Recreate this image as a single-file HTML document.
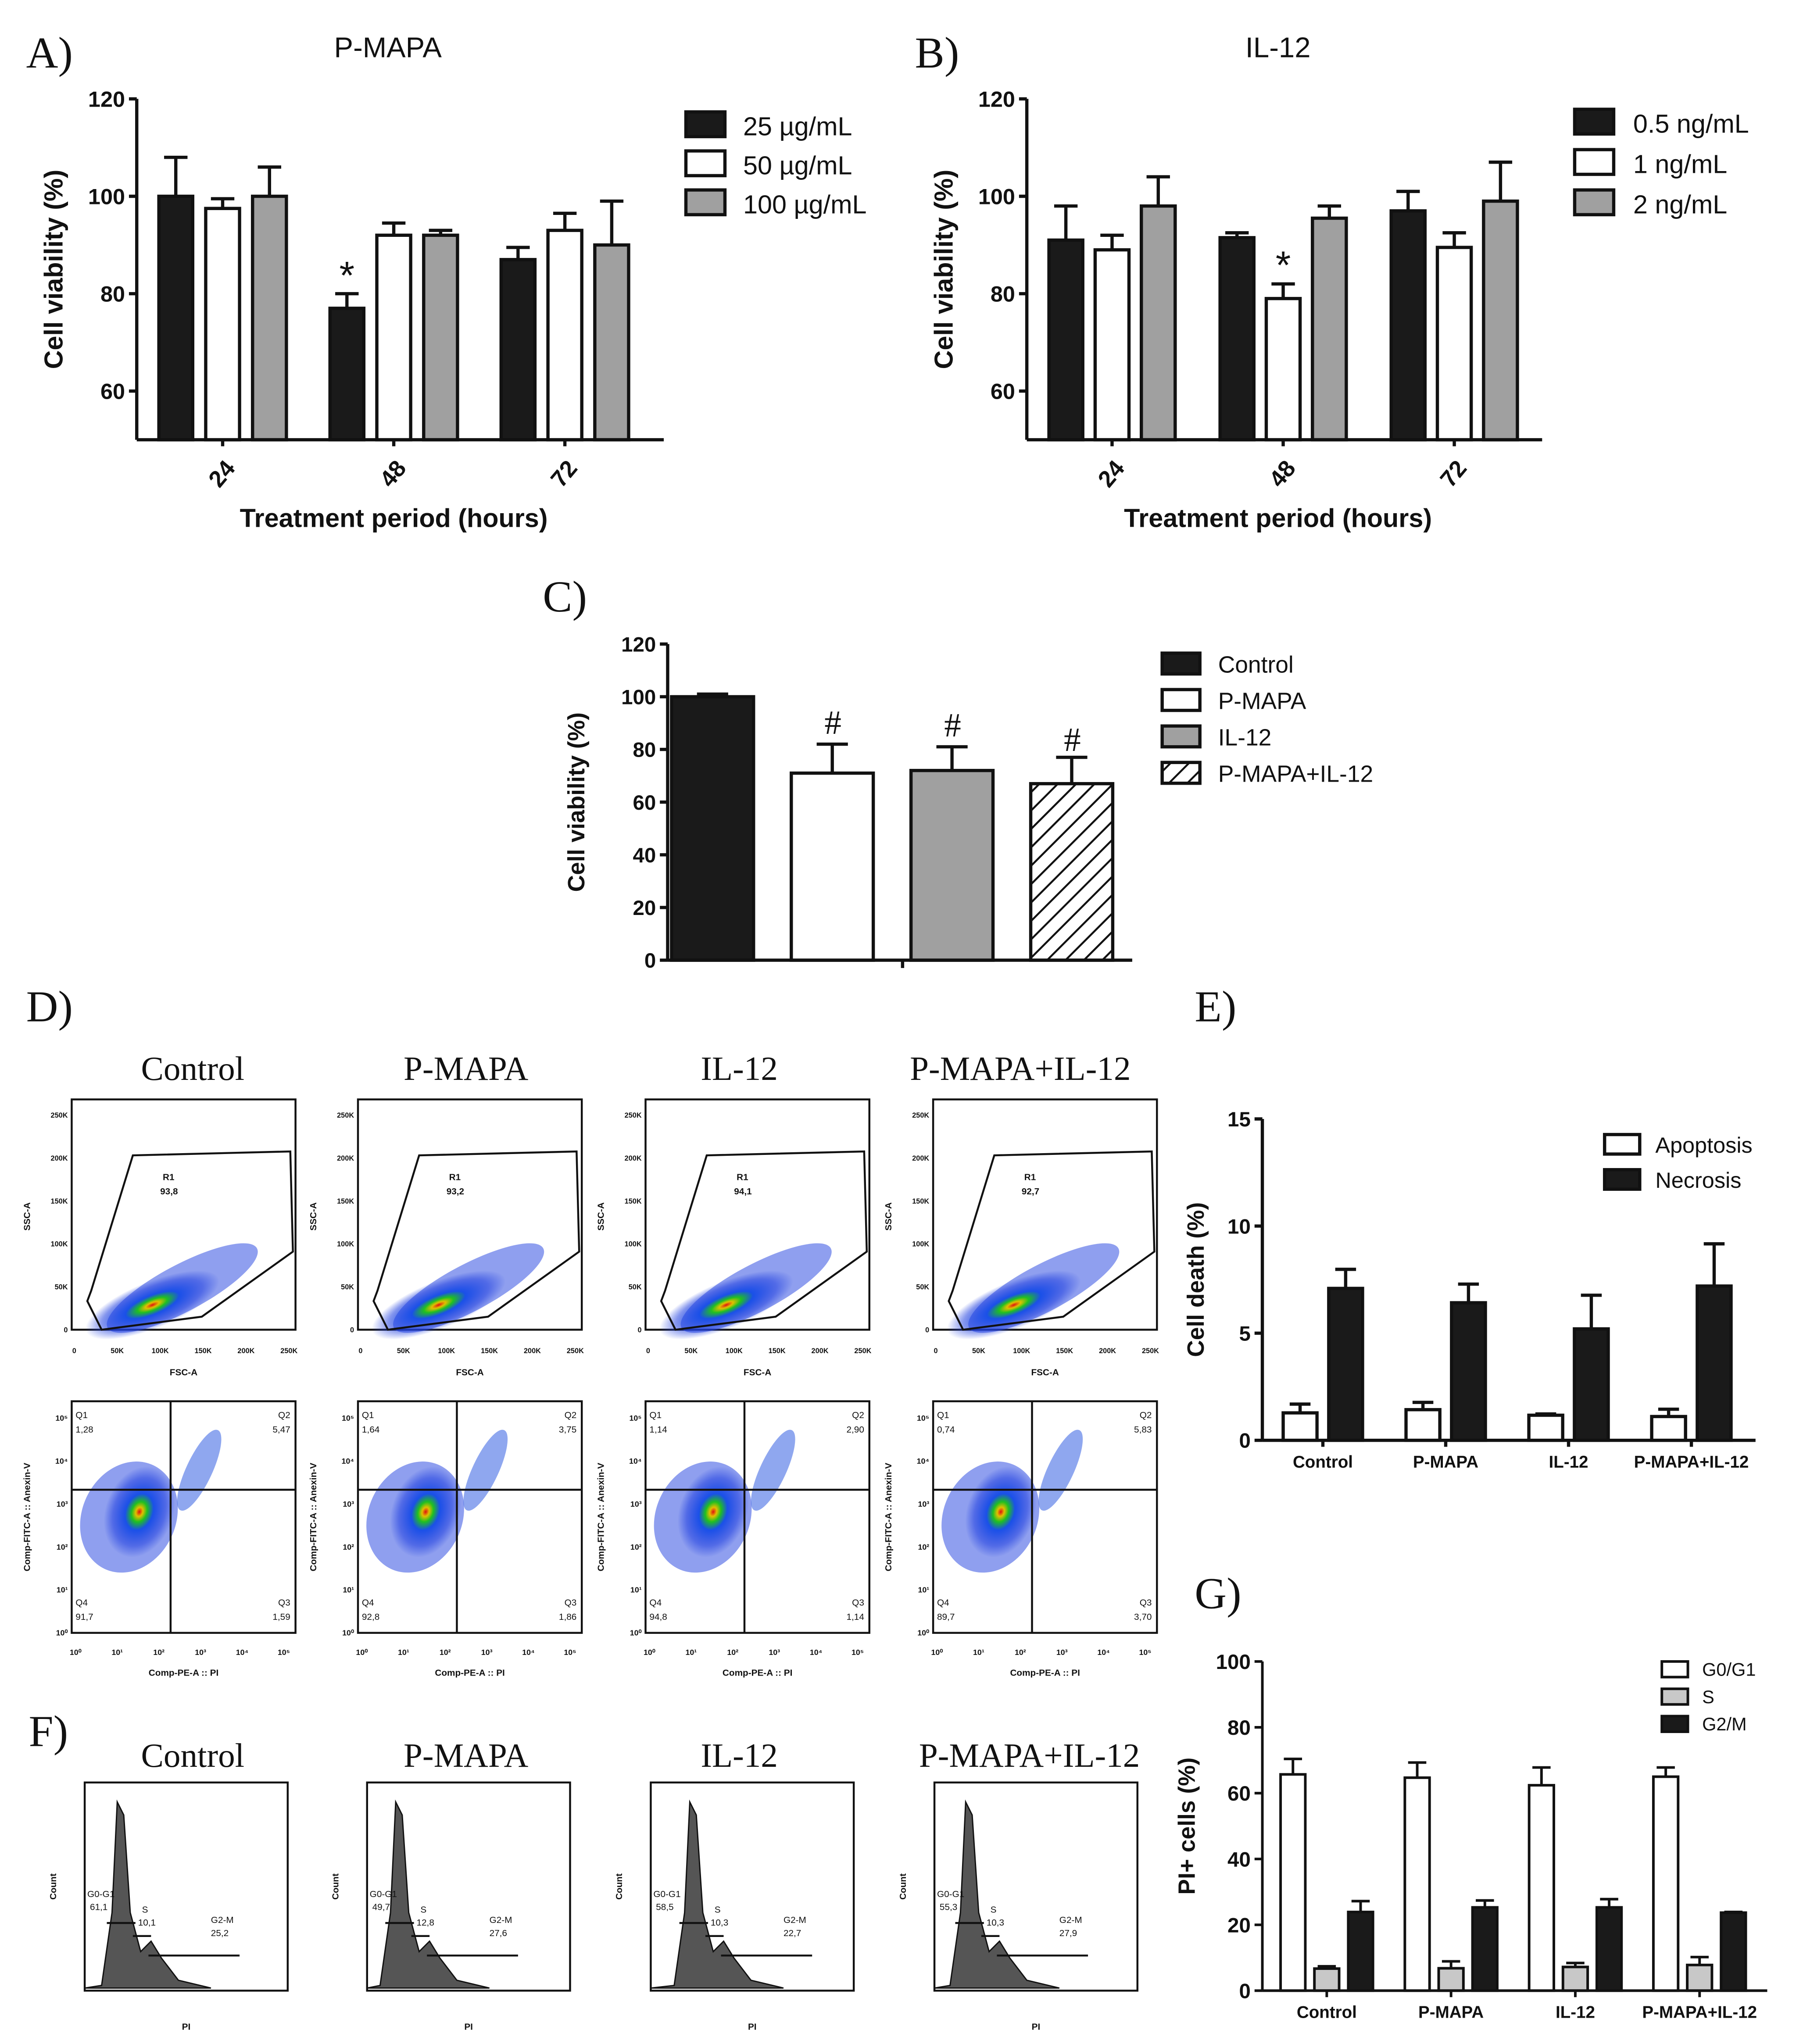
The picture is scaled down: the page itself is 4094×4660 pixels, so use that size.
<!DOCTYPE html>
<html><head><meta charset="utf-8"><style>
html,body{margin:0;padding:0;background:#fff;}
svg{display:block;}
</style></head><body>
<svg id="fig" xmlns="http://www.w3.org/2000/svg" width="4094" height="4660" viewBox="0 0 1380 1571">
<defs>
<pattern id="hatch" patternUnits="userSpaceOnUse" width="10" height="10" patternTransform="rotate(45)">
<rect width="10" height="10" fill="#fff"/><line x1="0" y1="0" x2="0" y2="10" stroke="#111" stroke-width="3"/>
</pattern>
<radialGradient id="blob">
<stop offset="0" stop-color="#e01010"/><stop offset="0.1" stop-color="#e0c000"/><stop offset="0.22" stop-color="#20c020"/><stop offset="0.4" stop-color="#1a50e8"/><stop offset="0.75" stop-color="#2040e0" stop-opacity="0.55"/><stop offset="1" stop-color="#2040e0" stop-opacity="0"/>
</radialGradient>
</defs>
<rect width="1380" height="1571" fill="#fff"/>
</svg>
<script>
// ---------- Panel A data ----------
const aGroups = ["24","48","72"];
const aSeries = ["25 µg/mL","50 µg/mL","100 µg/mL"];
const aVals = [[100,97.5,100],[77,92,92],[87,93,90]];
const aErr  = [[108,99.5,106],[80,94.5,93],[89.5,96.5,99]];
const aTicks = [60,80,100,120];
// ---------- Panel B data ----------
const bGroups = ["24","48","72"];
const bSeries = ["0.5 ng/mL","1 ng/mL","2 ng/mL"];
const bVals = [[91,89,98],[91.5,79,95.5],[97,89.5,99]];
const bErr  = [[98,92,104],[92.5,82,98],[101,92.5,107]];
const bTicks = [60,80,100,120];
// ---------- Panel C data ----------
const cSeries = ["Control","P-MAPA","IL-12","P-MAPA+IL-12"];
const cVals = [[100],[71],[72],[67]];
const cErr  = [[101],[82],[81],[77]];
const cTicks = [0,20,40,60,80,100,120];
// ---------- Panel E data ----------
const eGroups = ["Control","P-MAPA","IL-12","P-MAPA+IL-12"];
const eSeries = ["Apoptosis","Necrosis"];
const eVals = [[1.28,7.09],[1.43,6.42],[1.17,5.2],[1.11,7.2]];
const eErr  = [[1.69,7.98],[1.77,7.29],[1.23,6.77],[1.45,9.17]];
const eTicks = [0,5,10,15];
// ---------- Panel G data ----------
const gGroups = ["Control","P-MAPA","IL-12","P-MAPA+IL-12"];
const gSeries = ["G0/G1","S","G2/M"];
const gVals = [[65.7,6.7,23.9],[64.7,6.8,25.3],[62.4,7.2,25.3],[65,7.8,23.7]];
const gErr  = [[70.4,7.4,27.2],[69.3,8.9,27.4],[67.8,8.4,27.8],[67.8,10.2,23.9]];
const gTicks = [0,20,40,60,80,100];

const NS="http://www.w3.org/2000/svg";
const svg=document.getElementById('fig');
function mk(tag,attrs,parent){const e=document.createElementNS(NS,tag);for(const k in attrs)e.setAttribute(k,attrs[k]);(parent||svg).appendChild(e);return e;}
function T(x,y,s,size,o,parent){o=o||{};const e=mk('text',{x:x,y:y,'font-size':size,'font-family':o.serif?'"Liberation Serif",serif':'"Liberation Sans",sans-serif','font-weight':o.bold?'bold':'normal','text-anchor':o.anchor||'start',fill:o.fill||'#111'},parent);if(o.rot!==undefined)e.setAttribute('transform','rotate('+o.rot+' '+x+' '+y+')');e.textContent=s;return e;}

function barChart(c){
  const g=mk('g',{});
  
  
  const y=v=>c.yBot-(v-c.vmin)/(c.vmax-c.vmin)*(c.yBot-c.yTop);
  const xb=(gi,si)=>c.x0+c.pad+gi*c.groupW+si*c.pitch;
  const sw=c.sw;
  c.vals.forEach((row,gi)=>row.forEach((v,si)=>{
    const fillIdx=c.fillByGroup?gi:si;
    const x=xb(gi,si);
    const eb=mk('line',{x1:x+c.barW/2,x2:x+c.barW/2,y1:y(v),y2:y(c.err[gi][si]),stroke:'#111','stroke-width':sw},g);
    
    
    const cap=mk('line',{x1:x+c.barW/2-c.capW,x2:x+c.barW/2+c.capW,y1:y(c.err[gi][si]),y2:y(c.err[gi][si]),stroke:'#111','stroke-width':sw},g);
    
    
    const r=mk('rect',{x:x,y:y(v),width:c.barW,height:c.yBot-y(v),fill:c.fills[fillIdx],stroke:'#111','stroke-width':sw},g);
    
    
  }));
  const ya=mk('line',{x1:c.x0,x2:c.x0,y1:c.yTop,y2:c.yBot,stroke:'#111','stroke-width':sw},g);
  
  
  const xa=mk('line',{x1:c.x0,x2:c.x1,y1:c.yBot,y2:c.yBot,stroke:'#111','stroke-width':sw},g);
  
  
  c.ticks.forEach(t=>{
    const tl=mk('line',{x1:c.x0-6,x2:c.x0,y1:y(t),y2:y(t),stroke:'#111','stroke-width':sw},g);
    
    
    const tt=T(c.x0-9,y(t)+c.tickSize*0.36,String(t),c.tickSize,{anchor:'end',bold:true},g);
    
    
  });
  if(c.groups){
    c.groups.forEach((lab,gi)=>{
      const n=c.vals[gi].length;
      const cx=(xb(gi,0)+xb(gi,n-1)+c.barW)/2;
      const tk=mk('line',{x1:cx,x2:cx,y1:c.yBot,y2:c.yBot+5,stroke:'#111','stroke-width':sw},g);
      
      
      const lt=c.rotLabels?T(cx+4,c.yBot+30,lab,c.xSize,{anchor:'middle',bold:true,rot:-50},g):T(cx,c.yBot+21,lab,c.xSize,{anchor:'middle',bold:true},g);
      
      
    });
  } else {
    const cx=(c.x0+c.x1)/2+2;
    const tk=mk('line',{x1:cx,x2:cx,y1:c.yBot,y2:c.yBot+6,stroke:'#111','stroke-width':sw},g);
    
    
  }
  const yl=T(c.ylX,(c.yTop+c.yBot)/2,c.ylabel,c.ylSize,{anchor:'middle',bold:true,rot:-90},g);
  
  
  if(c.xlabel){const xl=T((c.x0+c.x1)/2-5,c.yBot+67,c.xlabel,20,{anchor:'middle',bold:true},g);
    
    }
  c.series.forEach((s,i)=>{
    const ly=c.legY+i*c.legDy;
    const lb=mk('rect',{x:c.legX,y:ly,width:c.legW,height:c.legH,fill:c.fills[i],stroke:'#111','stroke-width':sw},g);
    
    
    const lt=T(c.legX+c.legW+c.legGap,ly+c.legH-1,s,c.legSize,{},g);
    
    
  });
  return {y:y,xb:xb};
}

const A=barChart({name:'chart-a',x0:105,x1:510,yTop:76,yBot:338,vmin:50,vmax:120,pad:17,groupW:131.5,pitch:36,barW:26,capW:9,sw:2.5,
  vals:aVals,err:aErr,ticks:aTicks,groups:aGroups,series:aSeries,fills:['#1a1a1a','#fff','#a0a0a0'],rotLabels:true,xSize:18,tickSize:17,
  ylabel:'Cell viability (%)',ylX:48,ylSize:20,xlabel:'Treatment period (hours)',legX:527,legY:86,legDy:30,legW:30,legH:19,legGap:14,legSize:20});
const B=barChart({name:'chart-b',x0:789,x1:1185,yTop:76,yBot:338,vmin:50,vmax:120,pad:17,groupW:131.5,pitch:35.5,barW:26,capW:9,sw:2.5,
  vals:bVals,err:bErr,ticks:bTicks,groups:bGroups,series:bSeries,fills:['#1a1a1a','#fff','#a0a0a0'],rotLabels:true,xSize:18,tickSize:17,
  ylabel:'Cell viability (%)',ylX:732,ylSize:20,xlabel:'Treatment period (hours)',legX:1210,legY:84,legDy:31,legW:30,legH:19,legGap:15,legSize:20});
const C=barChart({name:'chart-c',x0:513,x1:870,yTop:495,yBot:738,vmin:0,vmax:120,pad:3,groupW:92,pitch:0,barW:63,capW:12,sw:2.5,fillByGroup:true,
  vals:cVals,err:cErr,ticks:cTicks,groups:null,series:cSeries,fills:['#1a1a1a','#fff','#a0a0a0','url(#hatch)'],tickSize:16,
  ylabel:'Cell viability (%)',ylX:449,ylSize:18,legX:893,legY:502,legDy:28,legW:29,legH:16,legGap:14,legSize:18});
const E=barChart({name:'chart-e',x0:970,x1:1349,yTop:860,yBot:1107,vmin:0,vmax:15,pad:16,groupW:94.4,pitch:35,barW:26,capW:8,sw:2.5,
  vals:eVals,err:eErr,ticks:eTicks,groups:eGroups,series:eSeries,fills:['#fff','#1a1a1a'],xSize:13,tickSize:16,
  ylabel:'Cell death (%)',ylX:925,ylSize:18,legX:1233,legY:872,legDy:27,legW:27,legH:15,legGap:12,legSize:17});
const G=barChart({name:'chart-g',x0:970,x1:1358,yTop:1277,yBot:1530,vmin:0,vmax:100,pad:14,groupW:95.5,pitch:26,barW:19,capW:7,sw:2,
  vals:gVals,err:gErr,ticks:gTicks,groups:gGroups,series:gSeries,fills:['#fff','#c8c8c8','#1a1a1a'],xSize:13,tickSize:16,
  ylabel:'PI+ cells (%)',ylX:918,ylSize:18,legX:1277,legY:1277,legDy:21,legW:20,legH:12,legGap:11,legSize:14});

[['*',A.xb(1,0)+13,222,30],['*',B.xb(1,1)+13,214,30]].forEach(m=>{const s=T(m[1],m[2],m[0],m[3],{anchor:'middle'});
  
  });
[1,2,3].forEach((gi)=>{const s=T(C.xb(gi,0)+32,C.y(cErr[gi][0])+(gi==3?-5:-8),'#',26,{anchor:'middle',serif:true});
  
  });

[['A)',20,52],['B)',703,52],['C)',417,470],['D)',20,785],['E)',918,785],['F)',22,1342],['G)',918,1236]].forEach(p=>{const t=T(p[1],p[2],p[0],34,{serif:true});
  
  });
const ta=T(298,44,'P-MAPA',22,{anchor:'middle'});


const tb=T(982,44,'IL-12',22,{anchor:'middle'});



// ---------- D and F flow panels (decorative) ----------
const cols=[55,275,496,717];
const names=["Control","P-MAPA","IL-12","P-MAPA+IL-12"];
const dTitleX=[148,358,568,784];
const fTitleX=[148,358,568,791];
const r1=["93,8","93,2","94,1","92,7"];
const q1=["1,28","1,64","1,14","0,74"],q2=["5,47","3,75","2,90","5,83"],q3=["1,59","1,86","1,14","3,70"],q4=["91,7","92,8","94,8","89,7"];
const hs=[["61,1","10,1","25,2"],["49,7","12,8","27,6"],["58,5","10,3","22,7"],["55,3","10,3","27,9"]];
const linTicks=["0","50K","100K","150K","200K","250K"];
const logTicks=["10⁰","10¹","10²","10³","10⁴","10⁵"];
cols.forEach((x,i)=>{
  const w=172;
  const t=T(dTitleX[i],830,names[i],26,{anchor:'middle',serif:true});
  
  
  const f1=mk('rect',{x:x,y:845,width:w,height:177,fill:'#fff',stroke:'#111','stroke-width':1.5});
  
  
  const b0=mk('ellipse',{cx:x+85,cy:990,rx:65,ry:18,fill:'#2040e0',opacity:0.5,transform:'rotate(-28 '+(x+85)+' 990)'});
  
  
  const b1=mk('ellipse',{cx:x+62,cy:1003,rx:55,ry:18,fill:'url(#blob)',transform:'rotate(-22 '+(x+62)+' 1003)'});
  
  
  const gate=mk('polygon',{points:[[x+12,1000],[x+15,992],[x+47,888],[x+168,885],[x+170,962],[x+100,1012],[x+23,1022]].map(p=>p.join(',')).join(' '),fill:'none',stroke:'#111','stroke-width':1.5});
  
  
  const rt=T(x+70,907,'R1',7,{bold:true});
  const rv=T(x+68,918,r1[i],7,{bold:true});
  linTicks.forEach((s,k)=>{
    const tx=T(x+2+k*33,1040,s,5.5,{anchor:'middle',bold:true});
    const ty=T(x-3,1022-k*33+2,s,5.5,{anchor:'end',bold:true});
  });
  const sx=T(x+w/2,1057,'FSC-A',7,{anchor:'middle',bold:true});
  const sy=T(x-32,935,'SSC-A',7,{anchor:'middle',bold:true,rot:-90});
  const f2=mk('rect',{x:x,y:1077,width:w,height:178,fill:'#fff',stroke:'#111','stroke-width':1.5});
  
  
  const b4=mk('ellipse',{cx:x+44,cy:1166,rx:36,ry:44,fill:'#2040e0',opacity:0.5,transform:'rotate(25 '+(x+44)+' 1166)'});
  
  
  const b2=mk('ellipse',{cx:x+52,cy:1162,rx:26,ry:36,fill:'url(#blob)',transform:'rotate(20 '+(x+52)+' 1162)'});
  
  
  const b3=mk('ellipse',{cx:x+98,cy:1130,rx:10,ry:34,fill:'#2050e0',opacity:0.5,transform:'rotate(25 '+(x+98)+' 1130)'});
  
  
  const qv=mk('line',{x1:x+76,x2:x+76,y1:1077,y2:1255,stroke:'#111','stroke-width':1.5});
  
  
  const qh=mk('line',{x1:x,x2:x+w,y1:1145,y2:1145,stroke:'#111','stroke-width':1.5});
  
  
  [['Q1',x+3,1090,'start'],[q1[i],x+3,1101,'start'],['Q2',x+w-4,1090,'end'],[q2[i],x+w-4,1101,'end'],['Q4',x+3,1234,'start'],[q4[i],x+3,1245,'start'],['Q3',x+w-4,1234,'end'],[q3[i],x+w-4,1245,'end']].forEach(q=>{
    const qt=T(q[1],q[2],q[0],7,{anchor:q[3]});
    
    
  });
  logTicks.forEach((s,k)=>{
    const tx=T(x+3+k*32,1272,s,6,{anchor:'middle',bold:true});
    const ty=T(x-3,1255-k*33+2,s,6,{anchor:'end',bold:true});
  });
  const qx=T(x+w/2,1288,'Comp-PE-A :: PI',7,{anchor:'middle',bold:true});
  const qy=T(x-32,1166,'Comp-FITC-A :: Anexin-V',7,{anchor:'middle',bold:true,rot:-90});
  const hx=[65,282,500,718][i], hw=156;
  const ht=T(fTitleX[i],1358,names[i],26,{anchor:'middle',serif:true});
  
  
  const hf=mk('rect',{x:hx,y:1370,width:hw,height:160,fill:'#fff',stroke:'#111','stroke-width':1.5});
  
  
  const p=hx+[27,24,32,26][i];
  const d='M'+hx+',1528 L'+(p-14)+',1526 L'+(p-6)+',1470 L'+(p-2)+',1385 L'+(p+3)+',1395 L'+(p+8)+',1470 L'+(p+16)+',1500 L'+(p+24)+',1492 L'+(p+32)+',1505 L'+(p+45)+',1522 L'+(p+70)+',1528 Z';
  const hp=mk('path',{d:d,fill:'#555',stroke:'#111','stroke-width':1});
  
  
  const gl=mk('path',{d:'M'+(p-10)+',1478 h22 M'+(p+10)+',1488 h14 M'+(p+22)+',1503 h70',stroke:'#111','stroke-width':1.5,fill:'none'});
  
  
  [['G0-G1',hx+2,1458],[hs[i][0],hx+4,1468],['S',p+17,1470],[hs[i][1],p+14,1480],['G2-M',p+70,1478],[hs[i][2],p+70,1488]].forEach(q=>{
    const tt=T(q[1],q[2],q[0],7);
    
    
  });
  const hxl=T(hx+hw/2,1560,'PI',7,{anchor:'middle',bold:true});
  const hyl=T(hx-22,1450,'Count',7,{anchor:'middle',bold:true,rot:-90});
});
</script>
</body></html>
